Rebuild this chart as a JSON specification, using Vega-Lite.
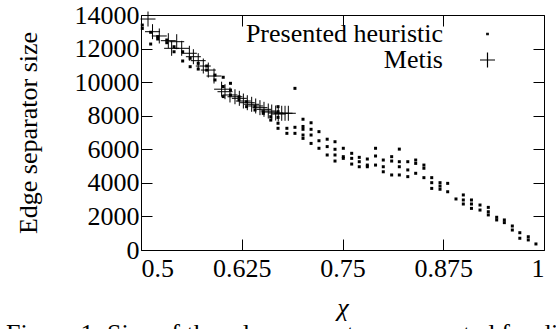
{
  "$schema": "https://vega.github.io/schema/vega-lite/v6.json",
  "width": 403,
  "height": 235,
  "autosize": "none",
  "padding": {"left": 141, "top": 15, "right": 12, "bottom": 79},
  "background": "white",
  "title": {
    "text": "Figure 1: Size of the edge separators computed for different values of χ",
    "orient": "bottom",
    "anchor": "start",
    "frame": "bounds",
    "font": "Liberation Serif, Times New Roman, DejaVu Serif, serif",
    "fontSize": 26,
    "fontWeight": "normal",
    "color": "black",
    "offset": 1,
    "dx": -9
  },
  "config": {
    "view": {"stroke": null},
    "font": "Liberation Serif, Times New Roman, DejaVu Serif, serif",
    "axis": {
      "grid": false,
      "domainColor": "black",
      "tickColor": "black",
      "tickSize": -11,
      "labelFont": "Liberation Serif, Times New Roman, DejaVu Serif, serif",
      "labelFontSize": 26,
      "labelColor": "black",
      "titleFont": "Liberation Serif, Times New Roman, DejaVu Serif, serif",
      "titleFontSize": 26,
      "titleFontWeight": "normal",
      "titleColor": "black"
    }
  },
  "datasets": {
    "heur": [
      {"series": "Presented heuristic", "chi": 0.5016, "size": 13400},
      {"series": "Presented heuristic", "chi": 0.5016, "size": 13200},
      {"series": "Presented heuristic", "chi": 0.512, "size": 12970},
      {"series": "Presented heuristic", "chi": 0.512, "size": 12270},
      {"series": "Presented heuristic", "chi": 0.5207, "size": 12710},
      {"series": "Presented heuristic", "chi": 0.5207, "size": 12570},
      {"series": "Presented heuristic", "chi": 0.532, "size": 12510},
      {"series": "Presented heuristic", "chi": 0.532, "size": 12350},
      {"series": "Presented heuristic", "chi": 0.541, "size": 12110},
      {"series": "Presented heuristic", "chi": 0.541, "size": 11810},
      {"series": "Presented heuristic", "chi": 0.5517, "size": 11810},
      {"series": "Presented heuristic", "chi": 0.5517, "size": 11260},
      {"series": "Presented heuristic", "chi": 0.561, "size": 11420},
      {"series": "Presented heuristic", "chi": 0.561, "size": 10920},
      {"series": "Presented heuristic", "chi": 0.571, "size": 11120},
      {"series": "Presented heuristic", "chi": 0.571, "size": 10780},
      {"series": "Presented heuristic", "chi": 0.5815, "size": 10960},
      {"series": "Presented heuristic", "chi": 0.5815, "size": 10720},
      {"series": "Presented heuristic", "chi": 0.5918, "size": 10420},
      {"series": "Presented heuristic", "chi": 0.5918, "size": 10130},
      {"series": "Presented heuristic", "chi": 0.602, "size": 10290},
      {"series": "Presented heuristic", "chi": 0.602, "size": 9740},
      {"series": "Presented heuristic", "chi": 0.602, "size": 9140},
      {"series": "Presented heuristic", "chi": 0.611, "size": 9930},
      {"series": "Presented heuristic", "chi": 0.611, "size": 9530},
      {"series": "Presented heuristic", "chi": 0.611, "size": 9230},
      {"series": "Presented heuristic", "chi": 0.6216, "size": 9130},
      {"series": "Presented heuristic", "chi": 0.6216, "size": 8940},
      {"series": "Presented heuristic", "chi": 0.631, "size": 8830},
      {"series": "Presented heuristic", "chi": 0.631, "size": 8540},
      {"series": "Presented heuristic", "chi": 0.6414, "size": 8540},
      {"series": "Presented heuristic", "chi": 0.6414, "size": 8340},
      {"series": "Presented heuristic", "chi": 0.6517, "size": 8240},
      {"series": "Presented heuristic", "chi": 0.6517, "size": 8140},
      {"series": "Presented heuristic", "chi": 0.661, "size": 7940},
      {"series": "Presented heuristic", "chi": 0.661, "size": 7740},
      {"series": "Presented heuristic", "chi": 0.67, "size": 8540},
      {"series": "Presented heuristic", "chi": 0.67, "size": 8240},
      {"series": "Presented heuristic", "chi": 0.67, "size": 7900},
      {"series": "Presented heuristic", "chi": 0.67, "size": 7550},
      {"series": "Presented heuristic", "chi": 0.67, "size": 7250},
      {"series": "Presented heuristic", "chi": 0.681, "size": 7250},
      {"series": "Presented heuristic", "chi": 0.681, "size": 6950},
      {"series": "Presented heuristic", "chi": 0.691, "size": 9630},
      {"series": "Presented heuristic", "chi": 0.691, "size": 7310},
      {"series": "Presented heuristic", "chi": 0.691, "size": 6950},
      {"series": "Presented heuristic", "chi": 0.701, "size": 7790},
      {"series": "Presented heuristic", "chi": 0.701, "size": 7360},
      {"series": "Presented heuristic", "chi": 0.701, "size": 7190},
      {"series": "Presented heuristic", "chi": 0.701, "size": 6850},
      {"series": "Presented heuristic", "chi": 0.701, "size": 6650},
      {"series": "Presented heuristic", "chi": 0.711, "size": 7580},
      {"series": "Presented heuristic", "chi": 0.711, "size": 7190},
      {"series": "Presented heuristic", "chi": 0.711, "size": 6850},
      {"series": "Presented heuristic", "chi": 0.711, "size": 6350},
      {"series": "Presented heuristic", "chi": 0.7208, "size": 7050},
      {"series": "Presented heuristic", "chi": 0.7208, "size": 6510},
      {"series": "Presented heuristic", "chi": 0.7208, "size": 6060},
      {"series": "Presented heuristic", "chi": 0.731, "size": 6600},
      {"series": "Presented heuristic", "chi": 0.731, "size": 6160},
      {"series": "Presented heuristic", "chi": 0.731, "size": 5660},
      {"series": "Presented heuristic", "chi": 0.7407, "size": 6450},
      {"series": "Presented heuristic", "chi": 0.7407, "size": 6000},
      {"series": "Presented heuristic", "chi": 0.7407, "size": 5660},
      {"series": "Presented heuristic", "chi": 0.7407, "size": 5300},
      {"series": "Presented heuristic", "chi": 0.751, "size": 6060},
      {"series": "Presented heuristic", "chi": 0.751, "size": 5560},
      {"series": "Presented heuristic", "chi": 0.751, "size": 5460},
      {"series": "Presented heuristic", "chi": 0.7614, "size": 5760},
      {"series": "Presented heuristic", "chi": 0.7614, "size": 5460},
      {"series": "Presented heuristic", "chi": 0.7614, "size": 5120},
      {"series": "Presented heuristic", "chi": 0.7708, "size": 5520},
      {"series": "Presented heuristic", "chi": 0.7708, "size": 5260},
      {"series": "Presented heuristic", "chi": 0.7708, "size": 4960},
      {"series": "Presented heuristic", "chi": 0.7808, "size": 5420},
      {"series": "Presented heuristic", "chi": 0.7808, "size": 5060},
      {"series": "Presented heuristic", "chi": 0.7808, "size": 4960},
      {"series": "Presented heuristic", "chi": 0.791, "size": 6060},
      {"series": "Presented heuristic", "chi": 0.791, "size": 5600},
      {"series": "Presented heuristic", "chi": 0.791, "size": 5060},
      {"series": "Presented heuristic", "chi": 0.8006, "size": 5360},
      {"series": "Presented heuristic", "chi": 0.8006, "size": 4960},
      {"series": "Presented heuristic", "chi": 0.8006, "size": 4660},
      {"series": "Presented heuristic", "chi": 0.811, "size": 5560},
      {"series": "Presented heuristic", "chi": 0.811, "size": 5300},
      {"series": "Presented heuristic", "chi": 0.811, "size": 4470},
      {"series": "Presented heuristic", "chi": 0.8205, "size": 6010},
      {"series": "Presented heuristic", "chi": 0.8205, "size": 5260},
      {"series": "Presented heuristic", "chi": 0.8205, "size": 4960},
      {"series": "Presented heuristic", "chi": 0.8205, "size": 4470},
      {"series": "Presented heuristic", "chi": 0.831, "size": 5260},
      {"series": "Presented heuristic", "chi": 0.831, "size": 4770},
      {"series": "Presented heuristic", "chi": 0.831, "size": 4370},
      {"series": "Presented heuristic", "chi": 0.8408, "size": 5360},
      {"series": "Presented heuristic", "chi": 0.8408, "size": 5160},
      {"series": "Presented heuristic", "chi": 0.8408, "size": 4570},
      {"series": "Presented heuristic", "chi": 0.851, "size": 5060},
      {"series": "Presented heuristic", "chi": 0.851, "size": 4870},
      {"series": "Presented heuristic", "chi": 0.851, "size": 4310},
      {"series": "Presented heuristic", "chi": 0.8607, "size": 4310},
      {"series": "Presented heuristic", "chi": 0.8607, "size": 4010},
      {"series": "Presented heuristic", "chi": 0.8607, "size": 3670},
      {"series": "Presented heuristic", "chi": 0.871, "size": 4010},
      {"series": "Presented heuristic", "chi": 0.871, "size": 3810},
      {"series": "Presented heuristic", "chi": 0.871, "size": 3620},
      {"series": "Presented heuristic", "chi": 0.8805, "size": 3970},
      {"series": "Presented heuristic", "chi": 0.8805, "size": 3470},
      {"series": "Presented heuristic", "chi": 0.8908, "size": 3040},
      {"series": "Presented heuristic", "chi": 0.8999, "size": 3280},
      {"series": "Presented heuristic", "chi": 0.8999, "size": 2980},
      {"series": "Presented heuristic", "chi": 0.8999, "size": 2740},
      {"series": "Presented heuristic", "chi": 0.91, "size": 2980},
      {"series": "Presented heuristic", "chi": 0.91, "size": 2740},
      {"series": "Presented heuristic", "chi": 0.91, "size": 2480},
      {"series": "Presented heuristic", "chi": 0.9206, "size": 2680},
      {"series": "Presented heuristic", "chi": 0.9206, "size": 2380},
      {"series": "Presented heuristic", "chi": 0.9309, "size": 2540},
      {"series": "Presented heuristic", "chi": 0.9309, "size": 2280},
      {"series": "Presented heuristic", "chi": 0.9309, "size": 2090},
      {"series": "Presented heuristic", "chi": 0.9413, "size": 1950},
      {"series": "Presented heuristic", "chi": 0.9413, "size": 1790},
      {"series": "Presented heuristic", "chi": 0.9508, "size": 1790},
      {"series": "Presented heuristic", "chi": 0.9508, "size": 1630},
      {"series": "Presented heuristic", "chi": 0.9607, "size": 1430},
      {"series": "Presented heuristic", "chi": 0.9607, "size": 1190},
      {"series": "Presented heuristic", "chi": 0.97, "size": 1030},
      {"series": "Presented heuristic", "chi": 0.97, "size": 700},
      {"series": "Presented heuristic", "chi": 0.9805, "size": 790},
      {"series": "Presented heuristic", "chi": 0.9805, "size": 600},
      {"series": "Presented heuristic", "chi": 0.99, "size": 360}
    ],
    "metis": [
      {"series": "Metis", "chi": 0.5087, "size": 13760},
      {"series": "Metis", "chi": 0.5143, "size": 13005},
      {"series": "Metis", "chi": 0.5227, "size": 12750},
      {"series": "Metis", "chi": 0.5339, "size": 12470},
      {"series": "Metis", "chi": 0.538, "size": 12015},
      {"series": "Metis", "chi": 0.5443, "size": 12410},
      {"series": "Metis", "chi": 0.5505, "size": 12015},
      {"series": "Metis", "chi": 0.56, "size": 11720},
      {"series": "Metis", "chi": 0.565, "size": 11515},
      {"series": "Metis", "chi": 0.571, "size": 11280},
      {"series": "Metis", "chi": 0.5773, "size": 10960},
      {"series": "Metis", "chi": 0.5835, "size": 10720},
      {"series": "Metis", "chi": 0.5906, "size": 10365},
      {"series": "Metis", "chi": 0.6, "size": 9580},
      {"series": "Metis", "chi": 0.6042, "size": 9430},
      {"series": "Metis", "chi": 0.6104, "size": 9235},
      {"series": "Metis", "chi": 0.6166, "size": 9130},
      {"series": "Metis", "chi": 0.622, "size": 9035},
      {"series": "Metis", "chi": 0.627, "size": 8875},
      {"series": "Metis", "chi": 0.6319, "size": 8775},
      {"series": "Metis", "chi": 0.6373, "size": 8680},
      {"series": "Metis", "chi": 0.6423, "size": 8580},
      {"series": "Metis", "chi": 0.6476, "size": 8480},
      {"series": "Metis", "chi": 0.6526, "size": 8380},
      {"series": "Metis", "chi": 0.6579, "size": 8280},
      {"series": "Metis", "chi": 0.6622, "size": 8220},
      {"series": "Metis", "chi": 0.6671, "size": 8160},
      {"series": "Metis", "chi": 0.6703, "size": 8100},
      {"series": "Metis", "chi": 0.6746, "size": 8145},
      {"series": "Metis", "chi": 0.6787, "size": 8145},
      {"series": "Metis", "chi": 0.6828, "size": 8145}
    ]
  },
  "layer": [
    {
      "data": {"name": "heur"},
      "mark": {"type": "point", "filled": false, "color": "black", "opacity": 1, "strokeWidth": 1.5, "size": 225},
      "encoding": {
        "x": {
          "field": "chi", "type": "quantitative",
          "scale": {"domain": [0.5, 1], "nice": false, "zero": false},
          "axis": {"orient": "bottom", "values": [0.5, 0.625, 0.75, 0.875, 1], "labelExpr": "'' + datum.value", "labelPadding": 16, "title": "χ", "titleFontStyle": "italic", "titlePadding": 13}
        },
        "y": {
          "field": "size", "type": "quantitative",
          "scale": {"domain": [0, 14000], "nice": false},
          "axis": {"orient": "left", "values": [0, 2000, 4000, 6000, 8000, 10000, 12000, 14000], "format": "d", "labelPadding": 13, "title": "Edge separator size", "titlePadding": 33}
        },
        "shape": {
          "field": "series", "type": "nominal",
          "scale": {"domain": ["Presented heuristic", "Metis"], "range": ["M-0.1,-0.1H0.1V0.1H-0.1Z", "M-1,0H1M0,-1V1"]},
          "legend": {"orient": "none", "legendX": 333.5, "legendY": 6, "title": null, "symbolSize": 225, "labelFont": "Liberation Serif, Times New Roman, DejaVu Serif, serif", "labelFontSize": 26, "labelColor": "black", "labelAlign": "right", "labelOffset": -57.5, "labelLimit": 400, "padding": 0, "rowPadding": 0, "symbolFillColor": "black", "symbolStrokeColor": "black", "symbolStrokeWidth": 1.2}
        }
      }
    },
    {
      "data": {"name": "metis"},
      "mark": {"type": "point", "filled": false, "color": "black", "opacity": 1, "strokeWidth": 1, "size": 225},
      "encoding": {
        "x": {
          "field": "chi", "type": "quantitative",
          "axis": {"orient": "top", "values": [0.5, 0.625, 0.75, 0.875, 1], "labels": false, "title": null}
        },
        "y": {
          "field": "size", "type": "quantitative",
          "axis": {"orient": "right", "values": [0, 2000, 4000, 6000, 8000, 10000, 12000, 14000], "labels": false, "title": null}
        },
        "shape": {"field": "series", "type": "nominal"}
      }
    }
  ],
  "resolve": {"axis": {"x": "independent", "y": "independent"}}
}
